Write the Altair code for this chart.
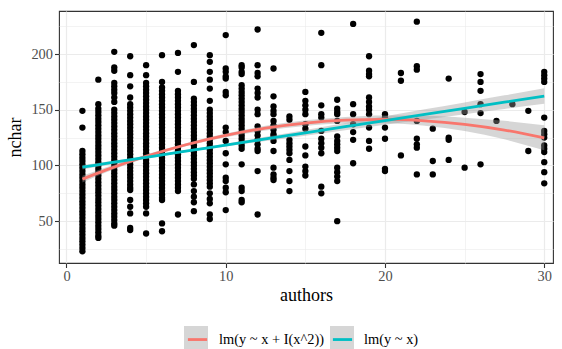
import altair as alt
import pandas as pd

# nchar values observed at each number of authors
n01 = [149, 134, 113, 110, 107, 104, 101, 98, 95, 92, 89, 86, 83, 80, 77, 74, 71, 68, 65,
       62, 59, 56, 53, 50, 47, 44, 41, 38, 35, 32, 29, 26, 23]
n02 = [177, 155, 151, 148, 145, 142, 139, 136, 133, 130, 127, 124, 121, 118, 115, 112, 109,
       106, 103, 100, 97, 94, 91, 88, 85, 82, 79, 76, 73, 70, 67, 64, 61, 58, 55, 52, 49,
       46, 43, 40, 37, 35]
n03 = [202, 188, 185, 174, 171, 168, 165, 161, 157, 150, 147, 144, 141, 138, 135, 132, 129,
       126, 123, 120, 117, 114, 111, 108, 105, 102, 99, 96, 93, 90, 87, 84, 81, 78, 75, 72,
       69, 66, 63, 60, 57, 54, 51, 48, 46]
n04 = [198, 181, 171, 161, 155, 152, 149, 146, 143, 140, 137, 134, 131, 128, 125, 122, 119,
       116, 113, 110, 107, 104, 101, 98, 95, 92, 89, 86, 83, 80, 78, 69, 63, 57, 44, 42]
n05 = [190, 181, 174, 171, 168, 165, 162, 159, 156, 153, 150, 147, 144, 141, 138, 135, 132,
       129, 126, 123, 120, 117, 114, 111, 108, 105, 102, 99, 96, 93, 90, 87, 84, 81, 78, 75,
       72, 69, 66, 63, 57, 39]
n06 = [199, 175, 170, 167, 164, 161, 158, 155, 152, 149, 146, 143, 140, 137, 134, 131, 128,
       125, 122, 119, 116, 113, 110, 107, 104, 101, 98, 95, 92, 89, 86, 83, 80, 77, 74, 71,
       69, 48, 41]
n07 = [201, 184, 167, 164, 161, 158, 155, 152, 149, 146, 143, 140, 137, 134, 131, 128, 125,
       122, 119, 116, 113, 110, 107, 104, 101, 98, 95, 92, 89, 86, 83, 80, 77, 56]
n08 = [208, 175, 160, 157, 154, 151, 148, 145, 142, 139, 136, 133, 130, 127, 124, 121, 118,
       115, 112, 109, 106, 103, 100, 97, 94, 91, 88, 83, 77, 72, 67, 59]
n09 = [199, 193, 184, 177, 169, 158, 150, 147, 144, 141, 138, 135, 132, 129, 126, 123, 120,
       117, 114, 111, 108, 105, 102, 99, 96, 93, 90, 87, 84, 81, 75, 70, 66, 56, 52]
n10 = [217, 187, 184, 180, 178, 166, 163, 134, 130, 122, 111, 101, 89, 86, 80, 76, 60]
n11 = [190, 188, 184, 182, 172, 169, 166, 163, 160, 157, 154, 151, 148, 145, 142, 139, 136,
       133, 130, 127, 124, 121, 118, 115, 101, 80, 77, 69, 67]
n12 = [222, 190, 183, 180, 169, 165, 161, 150, 146, 135, 131, 127, 123, 119, 115, 113, 95, 56]
n13 = [187, 162, 153, 149, 146, 140, 136, 132, 128, 126, 122, 113, 98, 92, 89, 87]
n14 = [144, 141, 123, 120, 117, 114, 111, 105, 95, 86, 77]
n15 = [166, 158, 154, 150, 146, 137, 133, 117, 109, 99, 95, 91]
n16 = [219, 190, 154, 146, 143, 131, 124, 120, 116, 111, 81, 75]
n17 = [159, 151, 148, 146, 140, 126, 122, 119, 116, 113, 98, 94, 90, 86, 50]
n18 = [227, 155, 146, 137, 130, 123, 102]
n19 = [198, 185, 182, 180, 161, 157, 153, 150, 146, 134, 122, 115]
n20 = [146, 143, 134, 124, 97, 95]
n21 = [183, 176, 109]
n22 = [229, 189, 186, 140, 124, 119, 116, 92]
n23 = [133, 104, 92]
n24 = [178, 125, 123, 105]
n25 = [148, 98]
n26 = [182, 175, 167, 155, 147, 101]
n27 = [140]
n28 = [155]
n29 = [149, 113]
n30 = [184, 181, 178, 175, 143, 131, 128, 125, 118, 115, 112, 103, 94, 84]

by_authors = [n01, n02, n03, n04, n05, n06, n07, n08, n09, n10, n11, n12, n13, n14, n15,
              n16, n17, n18, n19, n20, n21, n22, n23, n24, n25, n26, n27, n28, n29, n30]

# fitted curves with their 95% confidence half-widths
QUAD = "lm(y ~ x + I(x^2))"
LIN = "lm(y ~ x)"
fit_x = [1, 2.5, 5, 7.5, 10, 12.5, 15, 17.5, 20, 22.5, 25, 27.5, 30]
quad_fit = [87.8, 96.1, 108.3, 118.6, 127.0, 133.5, 138.0, 140.6, 141.3, 140.1, 136.9, 131.8, 124.8]
quad_half = [3.0, 2.2, 1.5, 1.4, 1.7, 2.1, 2.5, 2.9, 3.5, 4.5, 6.0, 8.3, 11.2]
lin_fit = [98.5, 101.8, 107.3, 112.8, 118.3, 123.8, 129.3, 134.8, 140.3, 145.8, 151.3, 156.8, 162.3]
lin_half = [2.0, 1.6, 1.2, 1.0, 1.3, 1.9, 2.6, 3.2, 3.8, 4.6, 5.3, 6.1, 7.0]

points = pd.DataFrame(
    [{"authors": i + 1, "nchar": v} for i, col in enumerate(by_authors) for v in col]
)

fits = pd.DataFrame(
    [{"model": QUAD, "band": QUAD, "authors": x, "fit": f, "lo": f - h, "hi": f + h}
     for x, f, h in zip(fit_x, quad_fit, quad_half)]
    + [{"model": LIN, "band": LIN, "authors": x, "fit": f, "lo": f - h, "hi": f + h}
       for x, f, h in zip(fit_x, lin_fit, lin_half)]
)

SERIF = "Liberation Serif"
major_x = "datum.value % 10 === 0"
major_y = "datum.value % 50 === 0"

x_scale = alt.Scale(domain=[-0.47, 30.55], nice=False, zero=False)
y_scale = alt.Scale(domain=[12.5, 238.6], nice=False, zero=False)

x_axis = alt.Axis(
    values=[0, 5, 10, 15, 20, 25, 30],
    labelExpr=f"{major_x} ? datum.label : ''",
    gridWidth={"condition": {"test": major_x, "value": 1.2}, "value": 0.6},
    tickOpacity={"condition": {"test": major_x, "value": 1}, "value": 0},
    labelOverlap=False,
    title="authors",
)
y_axis = alt.Axis(
    values=[25, 50, 75, 100, 125, 150, 175, 200, 225],
    labelExpr=f"{major_y} ? datum.label : ''",
    gridWidth={"condition": {"test": major_y, "value": 1.2}, "value": 0.6},
    tickOpacity={"condition": {"test": major_y, "value": 1}, "value": 0},
    labelOverlap=False,
    title="nchar",
)

X = alt.X("authors:Q", scale=x_scale, axis=x_axis)

# two legends share one spot: grey keys underneath, coloured strokes and labels on top
legend_common = dict(
    orient="none", direction="horizontal", legendX=125, legendY=315, title=None,
    padding=0, symbolSize=576, labelFont=SERIF, labelFontSize=14.4,
)

scatter = alt.Chart(points).mark_circle(size=40, color="black", opacity=1).encode(
    x=X,
    y=alt.Y("nchar:Q", scale=y_scale, axis=y_axis),
)

bands = alt.Chart(fits).mark_area(opacity=0.4, interpolate="monotone").encode(
    x=X,
    y=alt.Y("lo:Q", scale=y_scale, axis=y_axis),
    y2="hi:Q",
    fill=alt.Fill(
        "band:N",
        scale=alt.Scale(range=["#999999", "#999999"]),
        legend=alt.Legend(symbolType="square", symbolStrokeWidth=0, symbolOpacity=0.4,
                          labelExpr="''", labelOffset=0, columnPadding=122,
                          **legend_common),
    ),
    detail="model:N",
)

lines = alt.Chart(fits).mark_line(strokeWidth=2.8, interpolate="monotone").encode(
    x=X,
    y=alt.Y("fit:Q", scale=y_scale, axis=y_axis),
    stroke=alt.Stroke(
        "model:N",
        scale=alt.Scale(domain=[QUAD, LIN], range=["#F8766D", "#00BFC4"]),
        legend=alt.Legend(symbolType="M-0.8,0H0.8", symbolStrokeWidth=2.8,
                          labelColor="black", labelOffset=8, columnPadding=3,
                          **legend_common),
    ),
)

chart = (
    alt.layer(scatter, bands, lines)
    .properties(
        width=494, height=252,
        autosize=alt.AutoSizeParams(type="none"),
        padding={"left": 59, "top": 11, "right": 9, "bottom": 86},
        background="white",
    )
    .configure_view(stroke="#333333", strokeWidth=1.1)
    .configure_axis(
        domain=False,
        gridColor="#EBEBEB",
        tickColor="#333333",
        tickSize=4.5,
        tickWidth=1.1,
        labelFont=SERIF,
        labelFontSize=14.4,
        labelColor="#4D4D4D",
        labelPadding=2,
        titleFont=SERIF,
        titleFontSize=18,
        titleFontWeight="normal",
        titleColor="black",
    )
    .configure_axisX(titlePadding=4)
    .configure_axisY(titlePadding=6)
)

chart.save("out.html", embed_options={"renderer": "svg", "actions": False})
